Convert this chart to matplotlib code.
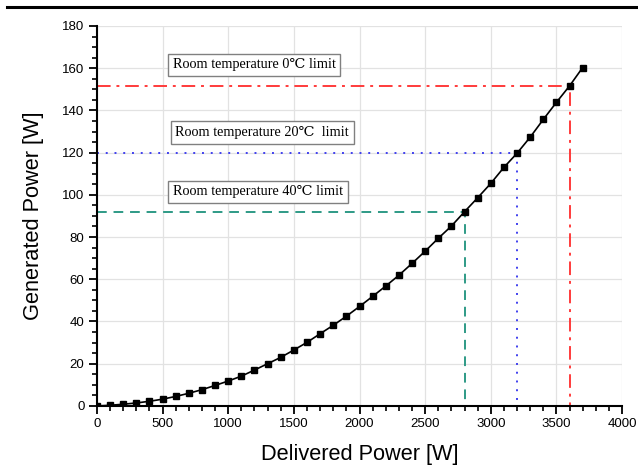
import numpy as np
import matplotlib.pyplot as plt
from matplotlib.lines import Line2D
from matplotlib.ticker import MultipleLocator

# delivered power [W] and generated power [W]
delivered = [0, 100, 200, 300, 400, 500, 600, 700, 800, 900,
             1000, 1100, 1200, 1300, 1400, 1500, 1600, 1700, 1800, 1900,
             2000, 2100, 2200, 2300, 2400, 2500, 2600, 2700, 2800, 2900,
             3000, 3100, 3200, 3300, 3400, 3500, 3600, 3700]
generated = [0.0, 0.3, 0.8, 1.4, 2.2, 3.2, 4.5, 6.0, 7.7, 9.7,
             11.8, 14.1, 17.0, 20.0, 23.0, 26.5, 30.1, 34.2, 38.2, 42.5,
             47.1, 51.9, 56.8, 61.9, 67.5, 73.3, 79.4, 85.2, 92.0, 98.6,
             105.4, 113.0, 119.7, 127.3, 135.7, 143.8, 151.6, 160.3]

# room temperature limits: (delivered, generated, label)
limit_x = [3600, 3200, 2800]
limit_y = [151.6, 119.7, 92.0]
limit_labels = ['Room temperature 0\u2103 limit',
                'Room temperature 20\u2103  limit',
                'Room temperature 40\u2103 limit']
limit_label_y = [161.7, 129.5, 101.4]
limit_label_x = [1196, 1259, 1227]

fig = plt.figure(figsize=(6.38, 4.72), dpi=100)
ax = fig.add_axes([0.152, 0.14, 0.823, 0.805])

# top rule across the page
fig.add_artist(Line2D([0.011, 1.0], [1 - 7/472, 1 - 7/472], color='black', lw=2.2))

# limit lines
styles = [dict(color='#ff3b3b', ls=(0, (7, 3, 1.5, 3))),
          dict(color='#4040ee', ls=(0, (1, 3.5))),
          dict(color='#2e9a86', ls=(0, (5, 3.5)))]
for lx, ly, st in zip(limit_x, limit_y, styles):
    ax.plot([0, lx, lx], [ly, ly, 0], lw=1.4, zorder=2, **st)

ax.plot(delivered, generated, color='black', lw=1.2, marker='s', ms=4.5, zorder=3)

for tx, ty, txt in zip(limit_label_x, limit_label_y, limit_labels):
    ax.text(tx, ty, txt, fontsize=10.3, family=['Liberation Serif', 'DejaVu Serif'],
            va='center', ha='center', zorder=4,
            bbox=dict(boxstyle='square,pad=0.32', fc='white', ec='#808080', lw=1))

ax.set_xlim(0, 4000)
ax.set_ylim(0, 180)
ax.xaxis.set_major_locator(MultipleLocator(500))
ax.xaxis.set_minor_locator(MultipleLocator(100))
ax.yaxis.set_major_locator(MultipleLocator(20))
ax.yaxis.set_minor_locator(MultipleLocator(5))
ax.grid(True, which='major', color='#e2e2e2', lw=0.9)
ax.set_axisbelow(True)

for side in ['top', 'right']:
    ax.spines[side].set_visible(False)
for side in ['left', 'bottom']:
    ax.spines[side].set_linewidth(1.5)
ax.tick_params(which='major', direction='out', length=6, width=1.3,
               labelsize=9.5, pad=3)
ax.tick_params(which='minor', direction='out', length=3.5, width=1.2)
for lab in ax.get_xticklabels() + ax.get_yticklabels():
    lab.set_family('Liberation Sans')

ax.set_xlabel('Delivered Power [W]', fontsize=15.7, family='Liberation Sans', labelpad=10)
ax.set_ylabel('Generated Power [W]', fontsize=15.7, family='Liberation Sans', labelpad=13)

fig.savefig('out.png', dpi=100)
